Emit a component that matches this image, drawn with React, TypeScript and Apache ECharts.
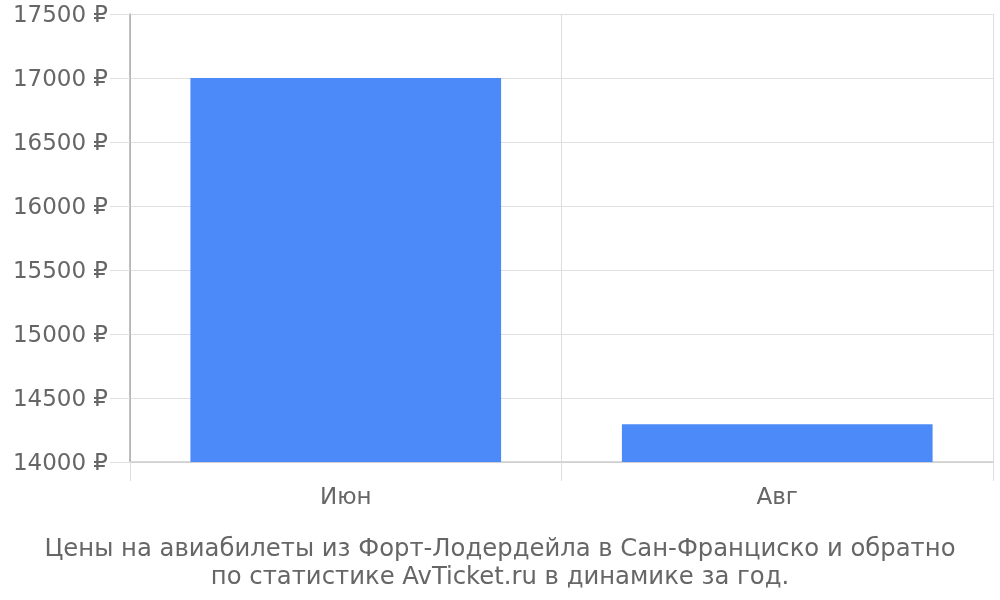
import React, { useEffect, useRef } from "react";
import * as echarts from "echarts";

const categories = ["Июн", "Авг"];
const prices = [17000, 14295];
const titleLines = [
  "Цены на авиабилеты из Форт-Лодердейла в Сан-Франциско и обратно",
  "по статистике AvTicket.ru в динамике за год.",
];

export default function App() {
  const ref = useRef<HTMLDivElement>(null);
  useEffect(() => {
    const chart = echarts.init(ref.current!, null, { renderer: "svg" });
    chart.setOption({
      animation: false,
      textStyle: { fontFamily: "DejaVu Sans" },
      title: {
        text: titleLines.join("\n"),
        left: "center",
        top: 528,
        textStyle: {
          fontFamily: "DejaVu Sans",
          fontSize: 24.3,
          fontWeight: "normal",
          color: "#666",
          lineHeight: 28,
        },
      },
      grid: { left: 130, right: 7, top: 14, bottom: 138, containLabel: false },
      xAxis: {
        type: "category",
        data: categories,
        boundaryGap: true,
        axisLine: { show: true, lineStyle: { color: "#ccc", width: 1.5 } },
        axisTick: { show: true, length: 19, lineStyle: { color: "#ddd" } },
        splitLine: { show: true, lineStyle: { color: "#ddd" } },
        axisLabel: { fontSize: 23, color: "#666", margin: 22, fontFamily: "DejaVu Sans" },
      },
      yAxis: {
        type: "value",
        min: 14000,
        max: 17500,
        interval: 500,
        axisLine: { show: true, lineStyle: { color: "#aaa", width: 1.5 } },
        axisTick: { show: true, length: 20, lineStyle: { color: "#e0e0e0" } },
        splitLine: { show: true, lineStyle: { color: "#e0e0e0" } },
        axisLabel: {
          fontSize: 23,
          color: "#666",
          margin: 22,
          fontFamily: "DejaVu Sans",
          formatter: (v: number) => `${v} ₽`,
        },
      },
      series: [
        {
          type: "bar",
          data: prices,
          barCategoryGap: "28%",
          itemStyle: { color: "#4d8af9" },
        },
      ],
    });
    return () => chart.dispose();
  }, []);
  return (
    <div
      ref={ref}
      style={{ position: "fixed", left: 0, top: 0, width: 1000, height: 600 }}
    />
  );
}
